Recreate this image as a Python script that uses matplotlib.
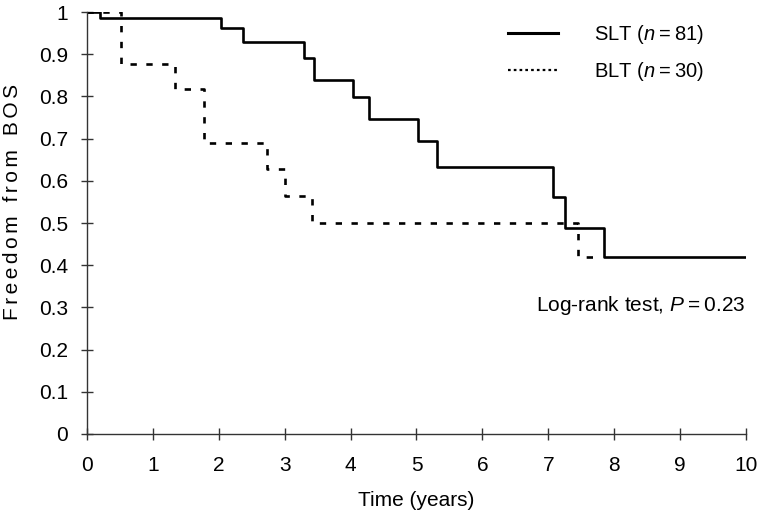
import matplotlib
matplotlib.use('Agg')
from matplotlib import pyplot as plt
from matplotlib.lines import Line2D

plt.rcParams['font.family'] = ['Liberation Sans', 'DejaVu Sans']
plt.rcParams['mathtext.fontset'] = 'custom'
plt.rcParams['mathtext.it'] = 'Liberation Sans:italic'
plt.rcParams['mathtext.rm'] = 'Liberation Sans'

# Kaplan-Meier steps
slt_t = [0, 0.2, 2.03, 2.37, 3.3, 3.45, 4.04, 4.28, 5.02, 5.31, 7.07, 7.25, 7.85, 10]
slt_s = [1, 0.985, 0.962, 0.929, 0.891, 0.839, 0.798, 0.746, 0.694, 0.633, 0.562, 0.488, 0.42, 0.42]
blt_t = [0, 0.52, 1.34, 1.78, 2.73, 3.0, 3.42, 7.45, 7.7]
blt_s = [1, 0.877, 0.817, 0.69, 0.627, 0.564, 0.5, 0.42, 0.42]

xticks = list(range(0, 11))
yticks = [i / 10 for i in range(0, 11)]
ylabels = ['0'] + ['%.1f' % v for v in yticks[1:-1]] + ['1']
labels = ['SLT ($n$\u2009=\u200981)', 'BLT ($n$\u2009=\u200930)']
ylab_words = ['Freedom', 'from', 'BOS']

fig = plt.figure(figsize=(7.6, 5.13), dpi=100)
ax = fig.add_axes([0.1145, 0.154, 0.867, 0.8226])

ax.step(slt_t, slt_s, where='post', color='black', lw=1.9)
ax.step(blt_t, blt_s, where='post', color='black', lw=1.9,
        linestyle=(0, (2.4, 3.6)))

ax.set_xlim(0, 10)
ax.set_ylim(0, 1)
ax.set_xticks(xticks)
ax.set_yticks(yticks)
ax.set_yticklabels(ylabels)
for s in ['top', 'right']:
    ax.spines[s].set_visible(False)
for s in ['left', 'bottom']:
    ax.spines[s].set_color('#333333')
    ax.spines[s].set_linewidth(1.0)
ax.tick_params(direction='inout', length=9, width=1.0, color='#333333',
               labelsize=15)
ax.tick_params(axis='x', pad=11)
ax.tick_params(axis='y', pad=9)
ax.set_xlabel('Time (years)', fontsize=15, labelpad=12)
# letter-spaced y label
ylab = '\u2009 \u2009'.join('\u200a\u200a'.join(w) for w in ylab_words)
ax.set_ylabel(ylab, fontsize=15)
ax.yaxis.set_label_coords(-0.099, 0.55)

handles = [Line2D([], [], color='black', lw=2.2),
           Line2D([], [], color='black', lw=1.6, linestyle=(0, (1.2, 1.4)))]
ax.legend(handles, labels, loc='upper left', frameon=False, fontsize=14.5,
          handlelength=2.5, handletextpad=1.75, borderaxespad=0, borderpad=0,
          bbox_to_anchor=(0.639, 0.975), labelspacing=0.7)

ax.text(10, 0.305, 'Log-rank test, $P$\u2009=\u20090.23', ha='right',
        va='center', fontsize=15)

fig.savefig('out.png', dpi=100)
